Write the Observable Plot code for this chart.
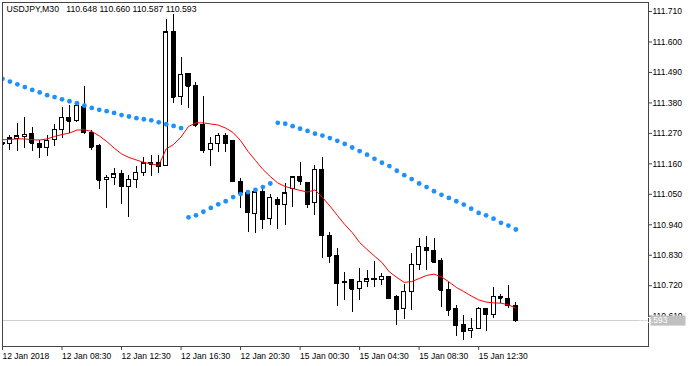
<!DOCTYPE html>
<html><head><meta charset="utf-8">
<script src="https://cdn.jsdelivr.net/npm/d3@7"></script>
<script src="https://cdn.jsdelivr.net/npm/@observablehq/plot@0.6"></script>
<style>html,body{margin:0;padding:0;background:#fff;}#chart{width:696px;height:366px;}</style>
</head><body><div id="chart"></div>
<script>
const symbolName = "USDJPY,M30";
const open = [111.234,111.232,111.249,111.256,111.266,111.232,111.218,111.246,111.283,111.327,
111.314,111.365,111.273,111.226,111.102,111.110,111.122,111.078,111.100,111.127,
111.162,111.162,111.153,111.635,111.402,111.483,111.441,111.300,111.210,111.232,
111.260,111.241,111.096,111.055,110.980,111.057,110.960,111.031,111.013,111.070,
111.112,111.092,111.018,111.139,110.901,110.826,110.730,110.739,110.708,110.733,
110.740,110.742,110.752,110.681,110.637,110.699,110.795,110.856,110.847,110.808,
110.703,110.637,110.579,110.555,110.563,110.637,110.615,110.681,110.673,110.648];
const high = [111.241,111.261,111.307,111.327,111.291,111.244,111.262,111.302,111.365,111.371,
111.385,111.439,111.280,111.230,111.118,111.143,111.136,111.118,111.152,111.183,
111.190,111.190,111.681,111.699,111.545,111.486,111.454,111.403,111.256,111.269,
111.269,111.244,111.107,111.064,111.070,111.070,111.049,111.040,111.090,111.114,
111.166,111.094,111.154,111.184,110.913,110.853,110.768,110.741,110.782,110.776,
110.808,110.764,110.755,110.683,110.726,110.838,110.892,110.897,110.892,110.818,
110.733,110.650,110.611,110.601,110.643,110.638,110.712,110.688,110.721,110.660];
const low = [111.226,111.208,111.206,111.215,111.206,111.178,111.187,111.224,111.252,111.270,
111.309,111.266,111.208,111.067,110.999,111.082,111.013,110.967,111.071,111.115,
111.114,111.125,111.150,111.377,111.371,111.359,111.291,111.196,111.152,111.201,
111.201,111.093,110.999,110.913,110.910,110.922,110.937,110.922,110.937,111.001,
111.082,110.998,110.974,110.817,110.799,110.645,110.667,110.622,110.667,110.714,
110.714,110.721,110.670,110.576,110.599,110.632,110.775,110.774,110.804,110.643,
110.609,110.537,110.522,110.528,110.562,110.554,110.602,110.655,110.636,110.587];
const close = [111.231,111.253,111.259,111.265,111.235,111.219,111.244,111.283,111.326,111.314,
111.370,111.273,111.220,111.100,111.109,111.122,111.078,111.102,111.128,111.162,
111.158,111.150,111.635,111.401,111.482,111.440,111.300,111.208,111.232,111.261,
111.232,111.096,111.053,110.983,111.057,110.958,111.037,111.013,111.053,111.112,
111.097,111.013,111.139,110.900,110.826,110.727,110.735,110.708,110.734,110.743,
110.745,110.752,110.673,110.634,110.699,110.796,110.861,110.847,110.805,110.703,
110.631,110.576,110.553,110.564,110.637,110.615,110.680,110.675,110.647,110.593];
const movingAverage = [111.247,111.248,111.250,111.250,111.247,111.246,111.250,111.259,111.266,111.271,
111.282,111.283,111.277,111.261,111.241,111.217,111.196,111.183,111.174,111.165,
111.160,111.154,111.214,111.230,111.257,111.295,111.308,111.308,111.304,111.300,
111.289,111.273,111.244,111.205,111.172,111.140,111.114,111.091,111.078,111.071,
111.064,111.058,111.066,111.039,111.008,110.974,110.941,110.912,110.876,110.851,
110.827,110.804,110.770,110.750,110.732,110.735,110.746,110.757,110.762,110.752,
110.734,110.714,110.699,110.683,110.669,110.661,110.658,110.657,110.651,110.639];
const parabolicSar = [111.467,111.457,111.447,111.437,111.427,111.418,111.408,111.401,111.393,111.386,
111.379,111.370,111.362,111.355,111.350,111.344,111.336,111.331,111.325,111.321,
111.317,111.310,111.303,111.297,111.289,110.967,110.974,110.987,111.001,111.014,
111.025,111.040,111.051,111.058,111.066,111.076,111.089,111.308,111.305,111.296,
111.287,111.279,111.269,111.262,111.253,111.243,111.232,111.219,111.206,111.193,
111.178,111.164,111.152,111.135,111.119,111.105,111.089,111.076,111.061,111.048,
111.037,111.025,111.013,110.998,110.983,110.974,110.962,110.947,110.937,110.923];
const timeTickIndex = [0,8,16,24,32,40,48,56,64];
const timeTickLabels = ["12 Jan 2018","12 Jan 08:30","12 Jan 12:30","12 Jan 16:30","12 Jan 20:30","15 Jan 00:30","15 Jan 04:30","15 Jan 08:30","15 Jan 12:30"];
const priceTicks = [111.710,111.600,111.490,111.380,111.270,111.160,111.050,110.940,110.830,110.720,110.610];

const bars = open.map((o,i)=>({i, open:o, high:high[i], low:low[i], close:close[i], ma:movingAverage[i], sar:parabolicSar[i]}));
const last = bars[bars.length-1];
const fmt = d3.format(".3f");
const NB = "\u00a0";
const titleText = `${symbolName}${NB}${NB}${NB}${fmt(last.open)}${NB}${fmt(last.high)}${NB}${fmt(last.low)}${NB}${fmt(last.close)}`;
const FONT = "'Liberation Sans', Arial, sans-serif";

const plot = Plot.plot({
  width: 696, height: 366,
  marginLeft: 2, marginRight: 48, marginTop: 2, marginBottom: 20,
  style: {fontFamily: FONT, fontSize: "8.5px", background: "#fff", color: "#000"},
  x: {type: "linear", domain: [0, 86.83]},
  y: {domain: [110.5006, 111.7425]},
  marks: [
    Plot.ruleY([last.close], {stroke: "#cfcfcf", shapeRendering: "crispEdges"}),
    Plot.ruleX(bars, {x: "i", y1: "low", y2: "high", stroke: "#000", clip: true, shapeRendering: "crispEdges"}),
    Plot.rect(bars, {x1: d => d.i - 0.27, x2: d => d.i + 0.27, y1: "open", y2: "close",
      fill: d => d.close >= d.open ? "#ffffff" : "#000000", stroke: "#000", clip: true, shapeRendering: "crispEdges"}),
    Plot.ruleY(bars, {y: "close", x1: d => d.i - 0.27, x2: d => d.i + 0.27, stroke: "#000", clip: true, shapeRendering: "crispEdges"}),
    Plot.line(bars, {x: "i", y: "ma", stroke: "#ff0000", strokeWidth: 1, clip: true}),
    Plot.dot(bars, {x: "i", y: "sar", r: 2.4, fill: "#1e90ff", stroke: "none", clip: true}),
    Plot.frame({stroke: "#444", shapeRendering: "crispEdges"}),
    Plot.axisY({anchor: "right", ticks: priceTicks, tickFormat: fmt, tickSize: 3, tickPadding: 1, label: null, stroke: "#444"}),
    Plot.axisX({anchor: "bottom", ticks: timeTickIndex, tickFormat: (d) => timeTickLabels[timeTickIndex.indexOf(d)], tickSize: 4, tickPadding: 2, textAnchor: "start", dx: 0, label: null, stroke: "#444"}),
    Plot.text([titleText], {frameAnchor: "top-left", dx: 4, dy: 3, textAnchor: "start", lineAnchor: "top", text: d => d, fill: "#000", fontSize: 8.7})
  ]
});

// current price label box in the right margin
const svg = d3.select(plot);
const yPos = plot.scale("y").apply(last.close);
const xEdge = plot.scale("x").apply(86.83);
const g = svg.append("g");
g.append("rect").attr("x", xEdge + 2.5).attr("y", yPos - 4.8).attr("width", 35).attr("height", 10).attr("fill", "#c0c0c0");
g.append("text").attr("x", xEdge + 4.5).attr("y", yPos).attr("dy", "0.36em").attr("fill", "#fff")
  .style("font-family", FONT).style("font-size", "8.5px").text(fmt(last.close));

document.getElementById("chart").appendChild(plot);
</script>
</body></html>
